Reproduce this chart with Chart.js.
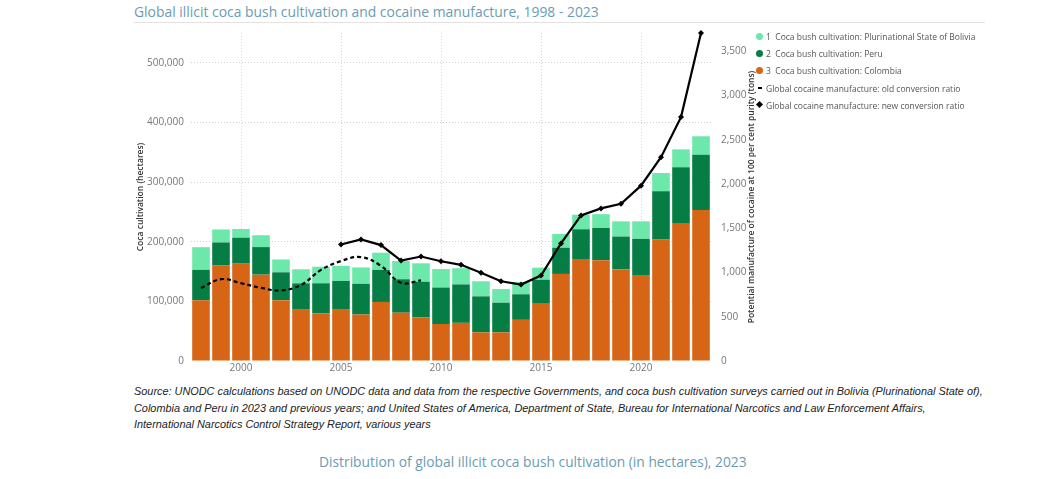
<!DOCTYPE html>
<html>
<head>
<meta charset="utf-8">
<script src="https://cdn.jsdelivr.net/npm/chart.js@4.4.1/dist/chart.umd.min.js"></script>
<style>
    body { margin: 0; background: #fff; width: 1040px; height: 479px; overflow: hidden; position: relative;
           font-family: "Segoe UI", "Open Sans", sans-serif; }
    #title { position: absolute; left: 134px; top: 2px; font-size: 13.9px; color: #6b9cb2; white-space: nowrap; }
    #rule { position: absolute; left: 134px; top: 22px; width: 851px; height: 1px; background: #e2e2e2; }
    #chartBox { position: absolute; left: 125px; top: 17px; width: 637px; height: 365px; }
    #legend { position: absolute; left: 754px; top: 27.5px; font-size: 8.5px; color: #555; }
    .item { height: 17.3px; display: flex; align-items: center; white-space: pre; }
    .mark { width: 12px; height: 10px; position: relative; flex: none; }
    .dot { position: absolute; left: 2px; top: 1.5px; width: 7px; height: 7px; border-radius: 50%; }
    .dash { position: absolute; left: 4px; top: 4px; width: 4px; height: 2px; background: #000; }
    .diamond { position: absolute; left: 3px; top: 2px; width: 5px; height: 5px; background: #000; transform: rotate(45deg); }
    #source { position: absolute; left: 134px; top: 383px; width: 900px; font-family: "Liberation Sans", Arial, sans-serif;
              font-style: italic; font-size: 10.9px; line-height: 16.5px; color: #222; white-space: nowrap; }
    #sub { position: absolute; left: 319px; top: 452px; font-size: 13.8px; color: #6b9cb2; white-space: nowrap; }
</style>
</head>
<body>
<div id="title">Global illicit coca bush cultivation and cocaine manufacture, 1998 - 2023</div>
<div id="rule"></div>
<div id="chartBox"><canvas id="cocaChart"></canvas></div>
<div id="legend"></div>
<div id="source">Source: UNODC calculations based on UNODC data and data from the respective Governments, and coca bush cultivation surveys carried out in Bolivia (Plurinational State of),<br>Colombia and Peru in 2023 and previous years; and United States of America, Department of State, Bureau for International Narcotics and Law Enforcement Affairs,<br>International Narcotics Control Strategy Report, various years</div>
<div id="sub">Distribution of global illicit coca bush cultivation (in hectares), 2023</div>

<script>
const years = ['1998', '1999', '2000', '2001', '2002', '2003', '2004', '2005', '2006', '2007', '2008', '2009', '2010',
               '2011', '2012', '2013', '2014', '2015', '2016', '2017', '2018', '2019', '2020', '2021', '2022', '2023'];

// hectares
const colombia = [101800, 160100, 163300, 144800, 102000, 86000, 80000, 86000, 78000, 99000, 81000, 73000, 62000,
                  64000, 48000, 48000, 69000, 96000, 146000, 171000, 169000, 154000, 143000, 204000, 230000, 253000];
const peru = [51000, 38700, 43400, 46200, 46700, 44200, 50300, 48200, 51400, 53700, 56100, 59900, 61200,
              64400, 60400, 49800, 42900, 40300, 43900, 49900, 54100, 54700, 61800, 80700, 95000, 92800];
const bolivia = [38000, 21800, 14600, 19900, 21600, 23600, 27700, 25400, 27500, 28900, 30500, 30900, 31000,
                 27200, 25300, 23000, 20400, 20200, 23100, 24500, 23100, 25500, 29400, 30500, 29900, 31000];

// tons, 100 per cent purity
const oldRatio = [825, 925, 880, 827, 798, 859, 1030, 1130, 1175, 1075, 885, 912, null,
                  null, null, null, null, null, null, null, null, null, null, null, null, null];
const newRatio = [null, null, null, null, null, null, null, 1317, 1374, 1310, 1136, 1181, 1128,
                  1087, 997, 902, 864, 966, 1329, 1646, 1725, 1778, 1982, 2304, 2757, 3708];

const leftTicks = [0, 100000, 200000, 300000, 400000, 500000];
const rightTicks = [0, 500, 1000, 1500, 2000, 2500, 3000, 3500];

const rightTitleText = 'Potential manufacture of cocaine at 100 per cent purity (tons)';

Chart.defaults.font.family = '"Segoe UI", "Open Sans", sans-serif';

const rightTitle = {
    id: 'rightTitle',
    afterDraw(chart) {
        const { ctx, chartArea } = chart;
        ctx.save();
        ctx.translate(chartArea.right + 41, (chartArea.top + chartArea.bottom) / 2);
        ctx.rotate(-Math.PI / 2);
        ctx.font = '600 8.5px "Segoe UI", "Open Sans", sans-serif';
        ctx.fillStyle = '#333';
        ctx.textAlign = 'center';
        ctx.textBaseline = 'middle';
        ctx.fillText(rightTitleText, 0, 0);
        ctx.restore();
    }
};

const barOpts = { barPercentage: 0.88, categoryPercentage: 1.0, order: 2, borderWidth: 0 };

const chart = new Chart(document.getElementById('cocaChart'), {
    type: 'bar',
    data: {
        labels: years,
        datasets: [
            { label: '3  Coca bush cultivation: Colombia', data: colombia, backgroundColor: '#d66516', ...barOpts },
            { label: '2  Coca bush cultivation: Peru', data: peru, backgroundColor: '#077d46', ...barOpts },
            { label: '1  Coca bush cultivation: Plurinational State of Bolivia', data: bolivia, backgroundColor: '#6be8aa', ...barOpts },
            {
                type: 'line', label: 'Global cocaine manufacture: old conversion ratio', data: oldRatio, yAxisID: 'y2',
                borderColor: '#000', borderWidth: 2.2, borderDash: [4, 3], pointRadius: 0, tension: 0.4, order: 1
            },
            {
                type: 'line', label: 'Global cocaine manufacture: new conversion ratio', data: newRatio, yAxisID: 'y2',
                borderColor: '#000', borderWidth: 2.2, pointStyle: 'rectRot', pointRadius: 3,
                pointBackgroundColor: '#000', pointBorderWidth: 0, order: 0, clip: false
            }
        ]
    },
    options: {
        responsive: true,
        maintainAspectRatio: false,
        animation: false,
        layout: { padding: { top: 2, left: 0, right: 0, bottom: 0 } },
        plugins: { legend: { display: false }, tooltip: { enabled: false } },
        scales: {
            x: {
                stacked: true,
                afterFit: s => { s.height = 21; },
                ticks: {
                    autoSkip: false, maxRotation: 0, padding: 1, color: '#777', font: { size: 10 },
                    callback: (v, i) => (Number(years[i]) % 5 === 0 ? years[i] : '')
                },
                grid: {
                    offset: false, drawTicks: false,
                    color: c => (c.index !== undefined && Number(years[c.index]) % 5 === 0 ? '#d8d8d8' : 'transparent')
                },
                border: { display: false, dash: [1, 2] }
            },
            y: {
                stacked: true, position: 'left', min: 0, max: 550000,
                afterBuildTicks: s => { s.ticks = leftTicks.map(v => ({ value: v })); },
                afterFit: s => { s.width = 66; },
                ticks: {
                    padding: 7, color: '#777', font: { size: 10 },
                    callback: v => v.toLocaleString('en-US')
                },
                grid: { drawTicks: false, color: c => (c.tick && c.tick.value === 0 ? 'transparent' : '#d0d0d0') },
                border: { display: false, dash: [1, 2] },
                title: {
                    display: true, text: 'Coca cultivation (hectares)', color: '#333',
                    font: { size: 8.5, weight: '600' }, padding: { top: 10, bottom: 0 }
                }
            },
            y2: {
                position: 'right', min: 0, max: 3708,
                afterBuildTicks: s => { s.ticks = rightTicks.map(v => ({ value: v })); },
                afterFit: s => { s.width = 51; },
                ticks: {
                    padding: 10, color: '#777', font: { size: 10 },
                    callback: v => v.toLocaleString('en-US')
                },
                grid: { drawOnChartArea: false, drawTicks: false },
                border: { display: false }
            }
        }
    },
    plugins: [rightTitle]
});

// legend built from the chart's own datasets, in the reference's order
const legendOrder = [2, 1, 0, 3, 4];
const legendBox = document.getElementById('legend');
legendOrder.forEach(i => {
    const ds = chart.data.datasets[i];
    const item = document.createElement('div');
    item.className = 'item';
    let mark;
    if (ds.type === 'line') {
        mark = ds.borderDash ? '<span class="dash"></span>' : '<span class="diamond"></span>';
    } else {
        mark = `<span class="dot" style="background:${ds.backgroundColor}"></span>`;
    }
    item.innerHTML = `<span class="mark">${mark}</span><span>${ds.label}</span>`;
    legendBox.appendChild(item);
});
</script>
</body>
</html>
